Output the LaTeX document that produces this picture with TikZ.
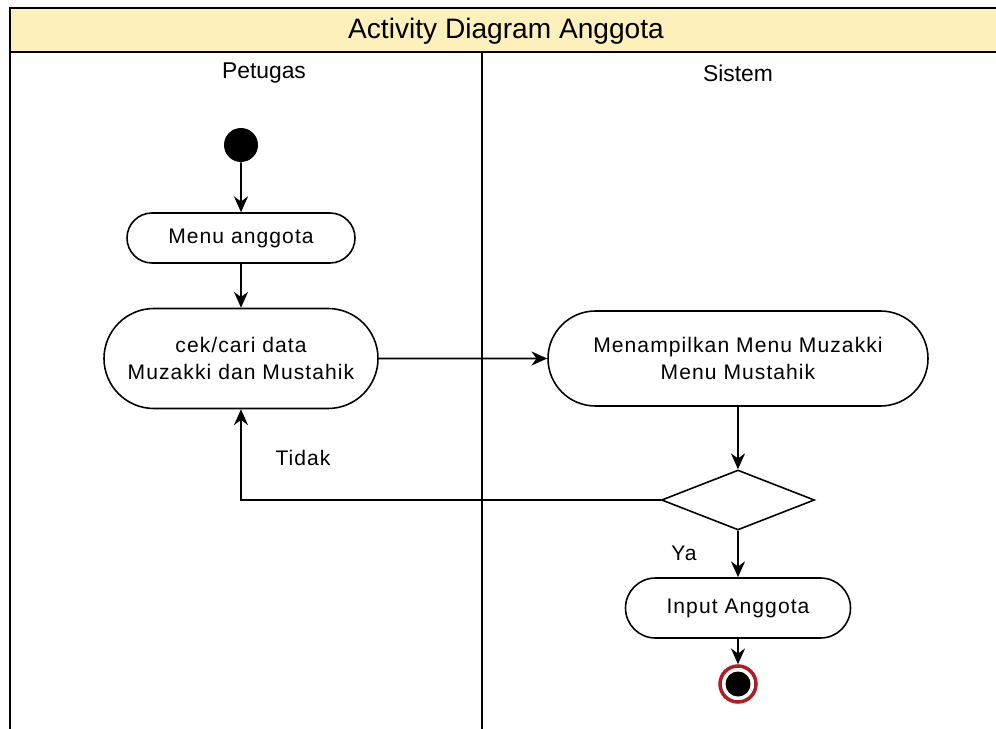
\documentclass[tikz,border=0pt]{standalone}
\usepackage{fontspec}
\setmainfont{Liberation Sans}
\newfontfamily\actfont[LetterSpace=5]{Liberation Sans}
\usepackage{xcolor}
\usepackage{tikz}
\usetikzlibrary{shapes.misc, shapes.geometric, arrows.meta, positioning}

\definecolor{titlebar}{RGB}{253,240,186}
\definecolor{endred}{RGB}{175,30,35}

\begin{document}
\begin{tikzpicture}[
  font=\actfont\fontsize{12}{15}\selectfont,
  flow/.style={line width=0.9pt, -{Stealth[length=9pt, width=8pt]}},
  activity/.style={rounded rectangle, draw, line width=0.9pt, align=center, inner sep=0pt},
  startnode/.style={circle, fill=black, minimum size=0.68cm, inner sep=0pt},
  decision/.style={diamond, draw, line width=0.9pt, minimum width=3.06cm, minimum height=1.2cm, inner sep=0pt},
  endnode/.style={circle, draw=endred, line width=2pt, fill=white, minimum size=0.72cm, inner sep=0pt}
]
\useasboundingbox (0,0) rectangle (19.92,-14.58);

% Swimlanes
\fill[titlebar] (0.2,-0.16) rectangle (20.2,-1.04);
\draw[line width=0.9pt] (0.2,-14.8) -- (0.2,-0.16) -- (20.2,-0.16);
\draw[line width=0.9pt] (0.2,-1.04) -- (20.2,-1.04);
\draw[line width=0.9pt] (9.64,-1.04) -- (9.64,-14.8);
\node[font=\fontsize{16}{18}\selectfont] (title) at (10.12,-0.62) {Activity Diagram Anggota};
\node[font=\fontsize{13}{15}\selectfont] (petugas) at (5.28,-1.46) {Petugas};
\node[font=\fontsize{13}{15}\selectfont] (sistem) at (14.76,-1.46) {Sistem};

% Activities
\node[startnode] (start) at (4.82,-2.9) {};
\node[activity, minimum width=4.56cm, minimum height=1.0cm] (menu) at (4.82,-4.76) {Menu anggota};
\node[activity, minimum width=5.48cm, minimum height=2.0cm] (cek) at (4.82,-7.17) {cek/cari data\\Muzakki dan Mustahik};
\node[activity, minimum width=7.6cm, minimum height=1.9cm] (tampil) at (14.76,-7.17) {Menampilkan Menu Muzakki\\Menu Mustahik};
\node[decision] (cek2) at (14.76,-10.0) {};
\node[activity, minimum width=4.5cm, minimum height=1.2cm] (input) at (14.76,-12.16) {Input Anggota};
\node[endnode] (end) at (14.76,-13.68) {};
\node[startnode, minimum size=0.5cm] (endcore) at (end) {};

% Flows
\draw[flow] (start) -- (menu);
\draw[flow] (menu) -- (cek);
\draw[flow] (cek) -- (tampil);
\draw[flow] (tampil) -- (cek2);
\draw[flow] (cek2.west) -| (cek.south);
\draw[flow] (cek2) -- (input);
\draw[flow] (input) -- (end);
\node (tidak) at (6.06,-9.16) {Tidak};
\node (ya) at (13.68,-11.06) {Ya};

\end{tikzpicture}
\end{document}
